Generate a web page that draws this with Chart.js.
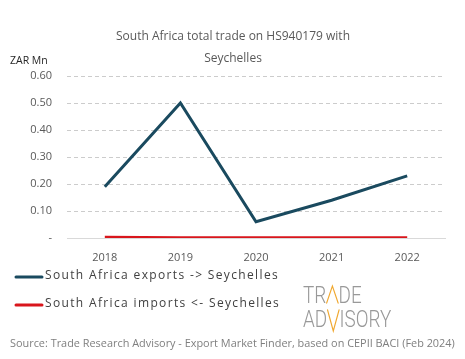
<!DOCTYPE html>
<html><head><meta charset="utf-8">
<script src="https://cdn.jsdelivr.net/npm/chart.js@4/dist/chart.umd.min.js"></script>
<style>html,body{margin:0;padding:0;background:#fff;}#wrap{width:465px;height:359px;position:relative;}</style>
</head><body><div id="wrap"><canvas id="c" width="465" height="359"></canvas></div>
<script>
const titleLines = ["South Africa total trade on HS940179 with", "Seychelles"];
const yAxisTitle = "ZAR Mn";
const years = ["2018", "2019", "2020", "2021", "2022"];
const exportsLabel = "South Africa exports -> Seychelles";
const importsLabel = "South Africa imports <- Seychelles";
const exportsValues = [0.19, 0.50, 0.06, 0.14, 0.23];
const importsValues = [0.003, 0.001, 0.0005, 0.0005, 0.0005];
const sourceText = "Source: Trade Research Advisory - Export Market Finder, based on CEPII BACI (Feb 2024)";
const FONT = "'Open Sans', sans-serif";

const dashedGrid = {
  id: 'dashedGrid',
  beforeDatasetsDraw(chart) {
    const ctx = chart.ctx;
    const y = chart.scales.y;
    const a = chart.chartArea;
    ctx.save();
    ctx.strokeStyle = '#cccccc';
    ctx.lineWidth = 1;
    ctx.setLineDash([4, 3]);
    y.ticks.forEach((t) => {
      if (t.value === 0) return;
      const py = Math.round(y.getPixelForValue(t.value)) + 0.5;
      ctx.beginPath();
      ctx.moveTo(a.left, py);
      ctx.lineTo(a.right, py);
      ctx.stroke();
    });
    ctx.restore();
  }
};

const extras = {
  id: 'extras',
  afterDraw(chart) {
    const ctx = chart.ctx;
    ctx.save();
    // title
    ctx.fillStyle = '#595959';
    ctx.font = '12px ' + FONT;
    ctx.textAlign = 'center';
    ctx.textBaseline = 'middle';
    ctx.fillText(titleLines[0], 233, 37);
    ctx.fillText(titleLines[1], 233, 59);
    // axis unit
    ctx.textAlign = 'left';
    ctx.fillStyle = '#262626';
    ctx.font = '10.5px ' + FONT;
    ctx.fillText(yAxisTitle, 10, 61);
    // legend
    const ds = chart.data.datasets;
    const ys = [277, 305];
    ds.forEach((d, i) => {
      ctx.strokeStyle = d.borderColor;
      ctx.lineWidth = 3;
      ctx.lineCap = 'round';
      ctx.beginPath();
      ctx.moveTo(16, ys[i]); ctx.lineTo(42, ys[i]); ctx.stroke();
      ctx.fillStyle = '#404040';
      ctx.font = '12px ' + FONT;
      ctx.letterSpacing = '1.35px';
      ctx.textAlign = 'left';
      ctx.fillText(d.label, 45, ys[i] - 1);
      ctx.letterSpacing = '0px';
    });
    // logo
    ctx.fillStyle = '#999999';
    ctx.font = '300 23px Roboto';
    ctx.textBaseline = 'alphabetic';
    ctx.strokeStyle = '#f0a830';
    ctx.lineWidth = 1.4;
    const aw = 15;
    let x = 0;
    const drawT = (s) => { ctx.fillText(s, x, 0); x += ctx.measureText(s).width; };
    ctx.save();
    ctx.translate(303, 303);
    ctx.scale(0.82, 1);
    x = 0;
    drawT('TR');
    ctx.beginPath();
    ctx.moveTo(x + 0.5, 0); ctx.lineTo(x + aw / 2, -17); ctx.lineTo(x + aw - 0.5, 0); ctx.stroke();
    x += aw;
    drawT('DE');
    ctx.restore();
    ctx.save();
    ctx.translate(303, 327);
    ctx.scale(0.82, 1);
    x = 0;
    drawT('AD');
    ctx.beginPath();
    ctx.moveTo(x + 0.5, -17); ctx.lineTo(x + aw / 2, 4); ctx.lineTo(x + aw - 0.5, -17); ctx.stroke();
    x += aw;
    drawT('ISORY');
    ctx.restore();
    // source
    ctx.fillStyle = '#7f7f7f';
    ctx.font = '10.9px ' + FONT;
    ctx.textAlign = 'left';
    ctx.textBaseline = 'middle';
    ctx.fillText(sourceText, 10, 344);
    ctx.restore();
  }
};

new Chart(document.getElementById('c'), {
  type: 'line',
  data: {
    labels: years,
    datasets: [
      { label: exportsLabel, data: exportsValues, borderColor: '#1a4a5f', backgroundColor: '#1a4a5f', borderWidth: 3, pointRadius: 0, tension: 0 },
      { label: importsLabel, data: importsValues, borderColor: '#d9161c', backgroundColor: '#d9161c', borderWidth: 3, pointRadius: 0, tension: 0 }
    ]
  },
  options: {
    responsive: false,
    animation: false,
    devicePixelRatio: 1,
    layout: { padding: { top: 76, right: 20, bottom: 91, left: 0 } },
    plugins: { legend: { display: false }, title: { display: false }, tooltip: { enabled: false } },
    scales: {
      x: {
        offset: true,
        grid: { display: false, drawTicks: false },
        border: { display: true, color: '#d9d9d9', width: 1 },
        ticks: { color: '#595959', font: { family: FONT, size: 11 }, padding: 13 },
        afterFit(s) { s.height = 30; }
      },
      y: {
        min: 0, max: 0.6,
        ticks: { stepSize: 0.1, color: '#595959', font: { family: FONT, size: 11 }, padding: 15,
          callback: (v) => (Math.abs(v) < 1e-9 ? '-' : v.toFixed(2)) },
        grid: { display: false, drawTicks: false },
        border: { display: false },
        afterFit(s) { s.width = 67; }
      }
    }
  },
  plugins: [dashedGrid, extras]
});
</script>
</body></html>
